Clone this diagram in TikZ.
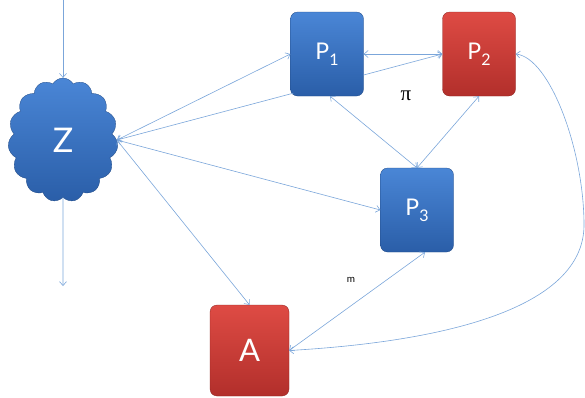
\documentclass[tikz,border=0pt]{standalone}
\usepackage{fontspec}
\setsansfont{Lato}
\newfontfamily\greekserif{Liberation Serif}
\usetikzlibrary{shapes.symbols,arrows.meta,calc}
\definecolor{bluetop}{HTML}{4A86D6}
\definecolor{bluebot}{HTML}{2A5EA8}
\definecolor{redtop}{HTML}{DE4B44}
\definecolor{redbot}{HTML}{B22F2B}
\definecolor{linec}{HTML}{7BA6DA}
\tikzset{
  box/.style={rounded corners=7pt, minimum width=73pt, minimum height=84pt, inner sep=0pt,
    text=white, font=\sffamily\fontsize{23}{26}\selectfont},
  bluebox/.style={box, top color=bluetop, bottom color=bluebot, draw=bluebot!80!black, line width=0.3pt},
  redbox/.style={box, top color=redtop, bottom color=redbot, draw=redbot!80!black, line width=0.3pt},
  conn/.style={draw=linec, line width=0.6pt},
  tip/.tip={Straight Barb[length=4pt,width=7pt,line width=0.6pt]},
}
\begin{document}
\begin{tikzpicture}[x=1pt,y=-1pt]
\useasboundingbox (0,0) rectangle (585,397);
\node[bluebox] (P1) at (327,54) {P\raisebox{-6pt}{\fontsize{16}{16}\selectfont 1}};
\node[redbox]  (P2) at (479,54) {P\raisebox{-6pt}{\fontsize{16}{16}\selectfont 2}};
\node[bluebox] (P3) at (417,210) {P\raisebox{-6pt}{\fontsize{16}{16}\selectfont 3}};
\node[redbox, minimum width=79pt, minimum height=91pt, font=\sffamily\fontsize{31}{34}\selectfont] (A) at (249.5,350.5) {A};
\node[cloud, cloud puffs=15, cloud puff arc=120, aspect=0.85, minimum width=110pt, minimum height=124pt,
  top color=bluetop, bottom color=bluebot, draw=bluebot!80!black, line width=0.3pt,
  text=white, font=\sffamily\fontsize{34}{36}\selectfont, inner sep=0pt] (Z) at (63,140) {Z};
\coordinate (top) at (63,0);
\coordinate (bot) at (63,286);
\coordinate (bend) at (584,225);
\node[font=\greekserif\fontsize{21}{22}\selectfont] (pi) at (406,96) {π};
\node[font=\sffamily\fontsize{10}{11}\selectfont] (m) at (351,280) {m};
% connectors
\draw[conn,-tip] (top) -- (Z.north);
\draw[conn,-tip] (Z.south) -- (bot);
\draw[conn,tip-tip] (Z.east) -- (P1.west);
\draw[conn,tip-] (Z.east) -- ($(P1.south west)+(3,-3)$);
\draw[conn,tip-tip] (Z.east) -- (P3.west);
\draw[conn,tip-tip] (Z.east) -- (A.north);
\draw[conn,tip-tip] (P1.east) -- (P2.west);
\draw[conn,-tip] ($(P1.east)+(0,21)$) -- (P2.west);
\draw[conn,tip-tip] ($(P1.south)+(3,0)$) -- (P3.north);
\draw[conn,tip-tip] (P2.south) -- (P3.north);
\draw[conn,tip-tip] ($(P3.south)+(8,0)$) -- (A.east);
\draw[conn,tip-tip] (A.east) .. controls (470,340) and (584,300) .. (bend)
  .. controls (584,150) and (550,58) .. (P2.east);
\end{tikzpicture}
\end{document}
